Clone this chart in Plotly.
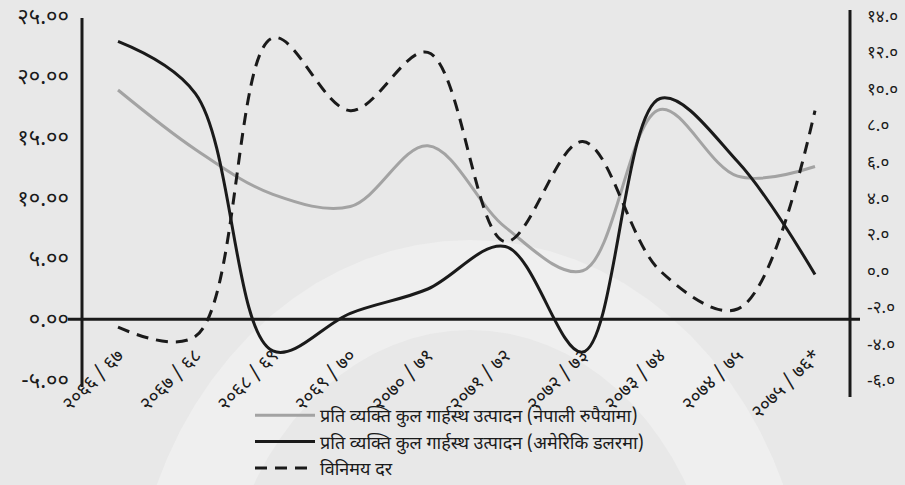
import math
import plotly.graph_objects as go

# ---- data ----
years = ["२०६६ / ६७", "२०६७ / ६८", "२०६८ / ६९", "२०६९ / ७०", "२०७० / ७१",
         "२०७१ / ७२", "२०७२ / ७३", "२०७३ / ७४", "२०७४ / ७५", "२०७५ / ७६*"]
gdp_npr = [18.9, 14.0, 10.3, 9.3, 14.3, 7.6, 4.0, 17.3, 11.8, 12.6]
gdp_usd = [22.9, 18.6, -2.6, 0.5, 2.5, 6.0, -2.7, 18.2, 13.0, 3.7]
exch_rate = [-3.1, -3.6, 12.8, 8.8, 12.0, 1.6, 7.1, 0.0, -2.1, 8.8]

left_ticks = [-5, 0, 5, 10, 15, 20, 25]
left_labels = ["-५.००", "०.००", "५.००", "१०.००", "१५.००", "२०.००", "२५.००"]
right_ticks = [-6, -4, -2, 0, 2, 4, 6, 8, 10, 12, 14]
right_labels = ["-६.०", "-४.०", "-२.०", "०.०", "२.०", "४.०", "६.०", "८.०", "१०.०", "१२.०", "१४.०"]

names = ["प्रति व्यक्ति कुल गार्हस्थ उत्पादन (नेपाली रुपैयामा)",
         "प्रति व्यक्ति कुल गार्हस्थ उत्पादन (अमेरिकि डलरमा)",
         "विनिमय दर"]

FONT = "Noto Sans Devanagari, Noto Sans, DejaVu Sans, sans-serif"
xs = list(range(len(years)))

W, H = 905, 485
L, R, T, B = 82, 55, 16, 105
PW, PH = W - L - R, H - T - B


def px(x):
    return (x - L) / PW


def py(y):
    return (H - B - y) / PH


fig = go.Figure()
fig.add_trace(go.Scatter(x=xs, y=gdp_npr, name=names[0], mode="lines", legendgroup="a",
                         line=dict(color="#a3a3a3", width=3, shape="spline", smoothing=1.0)))
fig.add_trace(go.Scatter(x=xs, y=gdp_usd, name=names[1], mode="lines", legendgroup="b",
                         line=dict(color="#1a1a1a", width=3, shape="spline", smoothing=1.0)))
fig.add_trace(go.Scatter(x=xs, y=exch_rate, name=names[2], mode="lines", yaxis="y2",
                         legendgroup="c",
                         line=dict(color="#1a1a1a", width=3, shape="spline", smoothing=1.0,
                                   dash="12px,8px")))

fig.update_layout(
    width=W, height=H,
    margin=dict(l=L, r=R, t=T, b=B, autoexpand=False),
    paper_bgcolor="#e8e8e8", plot_bgcolor="rgba(0,0,0,0)",
    font=dict(family=FONT, color="#1a1a1a", size=15),
    showlegend=True,
    legend=dict(x=px(250), xanchor="left", y=py(397), yanchor="top",
                bgcolor="rgba(0,0,0,0)", font=dict(size=18, family=FONT),
                tracegroupgap=4, traceorder="normal", itemwidth=60),
    xaxis=dict(range=[-0.465, 9.452], tickmode="array", tickvals=xs, ticktext=years,
               tickangle=-45, showgrid=False, zeroline=False, showline=False,
               anchor="free", position=0.16, ticks="outside", ticklen=14,
               tickcolor="rgba(0,0,0,0)", tickfont=dict(size=19)),
    yaxis=dict(range=[-5, 25], tickmode="array", tickvals=left_ticks, ticktext=left_labels,
               showgrid=False, zeroline=False, showline=False, ticks="",
               tickfont=dict(size=22), ticklabelstandoff=12),
    yaxis2=dict(range=[-6, 14], tickmode="array", tickvals=right_ticks, ticktext=right_labels,
                overlaying="y", side="right", showgrid=False, zeroline=False,
                showline=False, ticks="", tickfont=dict(size=17), ticklabelstandoff=16),
)

# faint watermark arch in the background
def ellipse_pts(cx, cy, rx, ry, a0, a1, n=40):
    pts = []
    for i in range(n + 1):
        a = math.radians(a0 + (a1 - a0) * i / n)
        pts.append((px(cx + rx * math.cos(a)), py(cy - ry * math.sin(a))))
    return pts

outer = ellipse_pts(470, 640, 340, 400, 180, 0)
inner = ellipse_pts(470, 640, 250, 310, 0, 180)
pts = outer + inner
path = "M " + " L ".join(f"{a:.4f},{b:.4f}" for a, b in pts) + " Z"
fig.add_shape(type="path", xref="paper", yref="paper", path=path, layer="below",
              fillcolor="#efefef", line=dict(width=0))

# axis lines
fig.add_shape(type="line", xref="paper", yref="paper", x0=0, x1=0, y0=py(387), y1=py(18),
              line=dict(color="#1a1a1a", width=3))
fig.add_shape(type="line", xref="paper", yref="paper", x0=1, x1=1, y0=py(397), y1=py(10),
              line=dict(color="#1a1a1a", width=3))
fig.add_shape(type="line", xref="paper", yref="y", x0=px(68), x1=px(860), y0=0, y1=0,
              line=dict(color="#1a1a1a", width=3))

fig.write_html("out.html",
               config={"displayModeBar": False},
               post_script="document.body.style.margin='0';"
                           "document.body.style.background='#e8e8e8';")
